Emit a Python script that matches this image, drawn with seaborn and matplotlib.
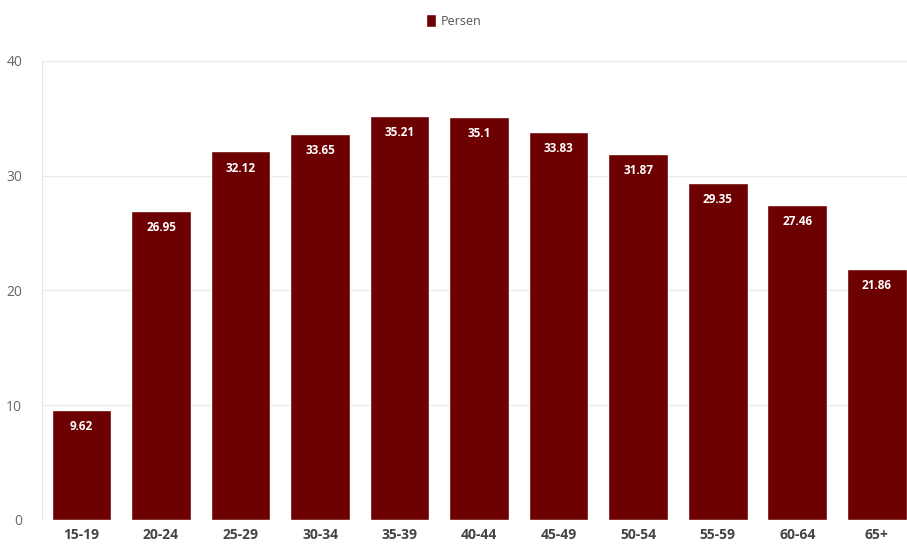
import matplotlib
matplotlib.use('Agg')
import matplotlib.pyplot as plt
import seaborn as sns
import pandas as pd
from matplotlib.patches import Patch

# data
age_groups = ['15-19', '20-24', '25-29', '30-34', '35-39', '40-44',
              '45-49', '50-54', '55-59', '60-64', '65+']
persen = [9.62, 26.95, 32.12, 33.65, 35.21, 35.1, 33.83, 31.87, 29.35, 27.46, 21.86]
labels = ['9.62', '26.95', '32.12', '33.65', '35.21', '35.1',
          '33.83', '31.87', '29.35', '27.46', '21.86']

df = pd.DataFrame({'umur': age_groups, 'persen': persen})

sns.set_style('white')
plt.rcParams['font.family'] = ['Open Sans', 'DejaVu Sans']

bar_col = '#6d0000'

fig = plt.figure(figsize=(9.07, 5.49), dpi=100)
ax = fig.add_axes([0.046, 0.053, 0.954, 0.836])

sns.barplot(data=df, x='umur', y='persen', color=bar_col, saturation=1,
            width=0.75, ax=ax, zorder=3)

# value labels inside the top of each bar
for i, v in enumerate(persen):
    ax.annotate(labels[i], (i, v), xytext=(0, -12), textcoords='offset points',
                ha='center', va='center', color='white', fontsize=8.5,
                fontweight='bold', zorder=4)

ax.set_ylim(0, 40)
ax.set_yticks([0, 10, 20, 30, 40])
ax.set_xlim(-0.5, 10.38)
ax.yaxis.grid(True, color='#ebebeb', linewidth=1, zorder=0)
ax.set_xlabel('')
ax.set_ylabel('')

for s in ['top', 'right', 'bottom']:
    ax.spines[s].set_visible(False)
ax.spines['left'].set_color('#e6e6e6')

ax.tick_params(axis='y', labelsize=10, colors='#666666', length=0, pad=14)
ax.tick_params(axis='x', labelsize=10, colors='#444444', length=0, pad=6)
for t in ax.get_xticklabels():
    t.set_fontweight('bold')

fig.legend(handles=[Patch(facecolor=bar_col, label='Persen')], loc='upper center',
           bbox_to_anchor=(0.5, 0.995), frameon=False, fontsize=9,
           handlelength=0.8, handleheight=1.2, handletextpad=0.4,
           labelcolor='#555555')

plt.savefig('out.png', dpi=100)
